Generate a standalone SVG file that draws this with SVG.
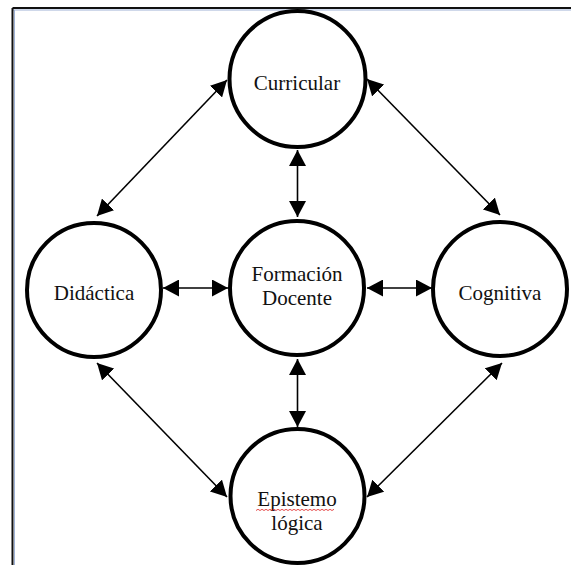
<svg xmlns="http://www.w3.org/2000/svg" width="571" height="565" viewBox="0 0 571 565">
  <style>
    .node circle { fill: #ffffff; stroke: #000000; stroke-width: 4; }
    .node text { font-family: "Liberation Serif", "Times New Roman", serif; font-size: 21px; fill: #111111; text-anchor: middle; }
    .conn line { stroke: #000000; stroke-width: 1.6; marker-start: url(#arrow); marker-end: url(#arrow); }
    .frame { fill: none; }
  </style>
  <defs>
    <marker id="arrow" markerUnits="userSpaceOnUse" markerWidth="17" markerHeight="17" refX="16" refY="8.5" orient="auto-start-reverse" viewBox="0 0 17 17">
      <path d="M0,0 L16,8.5 L0,17 z" fill="#000000"/>
    </marker>
  </defs>
  <rect x="0" y="0" width="571" height="565" fill="#ffffff"/>
  <g id="frame" class="frame">
    <line x1="12.5" y1="8" x2="571" y2="8" stroke="#111111" stroke-width="2"/>
    <line x1="13" y1="10" x2="571" y2="10" stroke="#9fb2d6" stroke-width="1"/>
    <line x1="12.5" y1="8" x2="12.5" y2="565" stroke="#111111" stroke-width="2"/>
    <line x1="14.5" y1="10" x2="14.5" y2="565" stroke="#9fb2d6" stroke-width="1"/>
  </g>
  <g id="connectors" class="conn">
    <line x1="297.5" y1="150" x2="297.5" y2="217"/>
    <line x1="297.5" y1="359" x2="297.5" y2="427"/>
    <line x1="163" y1="288" x2="228" y2="288"/>
    <line x1="367" y1="288" x2="432" y2="288"/>
    <line x1="227" y1="80" x2="97" y2="216"/>
    <line x1="367" y1="79" x2="500" y2="215"/>
    <line x1="97" y1="363" x2="227" y2="497"/>
    <line x1="502" y1="363" x2="367" y2="497"/>
  </g>
  <g id="node-curricular" class="node">
    <circle cx="297.5" cy="79" r="68"/>
    <text x="297" y="90">Curricular</text>
  </g>
  <g id="node-formacion" class="node">
    <circle cx="297" cy="288" r="67"/>
    <text x="297" y="281">Formación</text>
    <text x="297" y="305">Docente</text>
  </g>
  <g id="node-didactica" class="node">
    <circle cx="94" cy="290" r="67"/>
    <text x="94" y="300">Didáctica</text>
  </g>
  <g id="node-cognitiva" class="node">
    <circle cx="500" cy="289" r="67"/>
    <text x="500" y="300">Cognitiva</text>
  </g>
  <g id="node-epistemologica" class="node">
    <circle cx="297.5" cy="496" r="67"/>
    <text x="297" y="506">Epistemo</text>
    <text x="297" y="530">lógica</text>
    <path d="M256,510.5 l2,-1.2 l2,1.2 l2,-1.2 l2,1.2 l2,-1.2 l2,1.2 l2,-1.2 l2,1.2 l2,-1.2 l2,1.2 l2,-1.2 l2,1.2 l2,-1.2 l2,1.2 l2,-1.2 l2,1.2 l2,-1.2 l2,1.2 l2,-1.2 l2,1.2 l2,-1.2 l2,1.2 l2,-1.2 l2,1.2 l2,-1.2 l2,1.2 l2,-1.2 l2,1.2 l2,-1.2 l2,1.2 l2,-1.2 l2,1.2 l2,-1.2 l2,1.2 l2,-1.2 l2,1.2 l2,-1.2 l2,1.2 l2,-1.2" fill="none" stroke="#e02020" stroke-width="0.8"/>
  </g>
</svg>
